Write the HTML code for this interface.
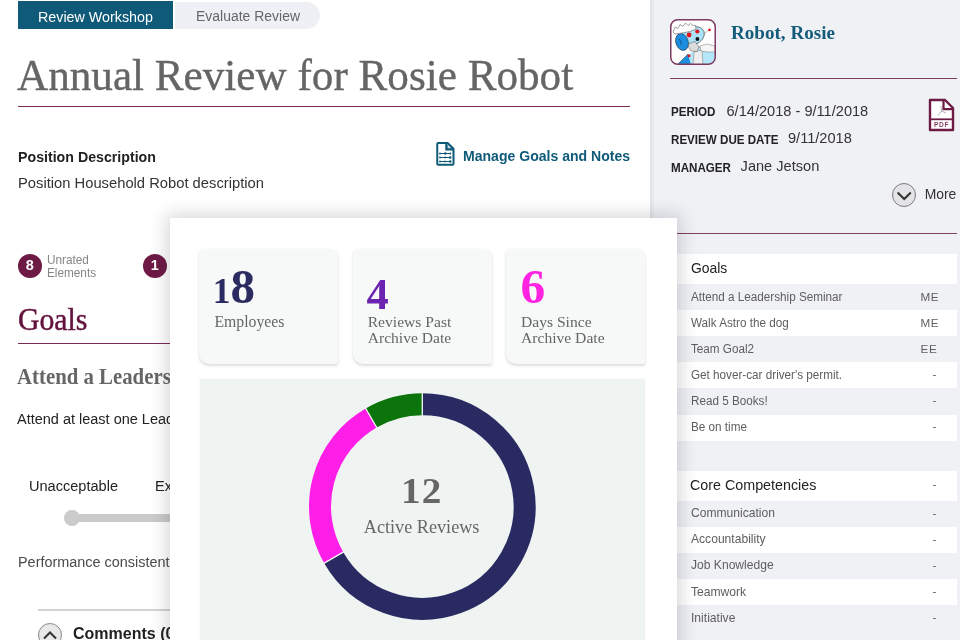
<!DOCTYPE html>
<html><head><meta charset="utf-8">
<style>
*{margin:0;padding:0;box-sizing:border-box}
html,body{width:960px;height:640px;overflow:hidden;background:#fff}
body{position:relative;font-family:"Liberation Sans",sans-serif;color:#333}
.a{position:absolute;white-space:nowrap;line-height:1}
</style></head><body>
<div class="a" style="left:18px;top:1px;width:155px;height:28px;background:#0e5a78;"></div>
<div class="a" style="left:175px;top:1.5px;width:145px;height:27.7px;background:#eef0f5;border-radius:0 14px 14px 0;"></div>
<div class="a" style="left:38.00px;top:8.65px;font-size:15px;color:#fff;transform:scaleX(0.953);transform-origin:0 0;">Review Workshop</div>
<div class="a" style="left:196.30px;top:8.48px;font-size:15.2px;color:#666;transform:scaleX(0.92);transform-origin:0 0;">Evaluate Review</div>
<div class="a" style="left:17.00px;top:52.85px;font-size:45px;color:#656565;transform:scaleX(0.959);transform-origin:0 0;-webkit-text-stroke:0.4px #656565;font-family:'Liberation Serif',serif;">Annual Review for Rosie Robot</div>
<div class="a" style="left:18px;top:105.5px;width:612px;height:1.2px;background:#7a2a52;"></div>
<div class="a" style="left:18.40px;top:149.59px;font-size:14.6px;color:#222;transform:scaleX(0.972);transform-origin:0 0;font-weight:700;">Position Description</div>
<div class="a" style="left:18.40px;top:174.59px;font-size:15.3px;color:#333;transform:scaleX(0.964);transform-origin:0 0;">Position Household Robot description</div>
<svg class="a" style="left:435px;top:141px" width="21" height="26" viewBox="0 0 21 26">
 <path d="M2.25 3 Q2.25 2 3.25 2 H12.6 L18.5 7.7 V22.75 Q18.5 23.75 17.5 23.75 H3.25 Q2.25 23.75 2.25 22.75 Z" fill="#fff" stroke="#0f5a78" stroke-width="2" stroke-linejoin="round"/>
 <path d="M11.25 2.5 V8.6 H18" fill="#0f5a78" stroke="#0f5a78" stroke-width="2"/>
 <path d="M12.6 3.6 L16.2 7.2 H12.6 Z" fill="#cfdde3"/>
 <path d="M4.6 12.5 H15.6 M4.6 16.5 H15.6 M4.6 20.5 H15.6" stroke="#0f5a78" stroke-width="1.2"/>
 <circle cx="10.3" cy="12.5" r="1.3" fill="#0f5a78"/><circle cx="15.2" cy="16.5" r="1.3" fill="#0f5a78"/><circle cx="15.2" cy="20.5" r="1.3" fill="#0f5a78"/>
 <circle cx="5" cy="12.5" r="0.9" fill="#0f5a78"/><circle cx="5" cy="16.5" r="0.9" fill="#0f5a78"/><circle cx="5" cy="20.5" r="0.9" fill="#0f5a78"/>
 <circle cx="15.3" cy="12.5" r="0.9" fill="#0f5a78"/><circle cx="10" cy="16.5" r="0.9" fill="#0f5a78"/><circle cx="10" cy="20.5" r="0.9" fill="#0f5a78"/>
</svg>
<div class="a" style="left:462.50px;top:148.33px;font-size:15.2px;color:#0f5a78;transform:scaleX(0.925);transform-origin:0 0;font-weight:700;">Manage Goals and Notes</div>
<div class="a" style="left:18px;top:253.7px;width:24px;height:24px;border-radius:50%;background:#6d1a45"></div>
<div class="a" style="left:25.80px;top:258.48px;font-size:14.5px;color:#fff;font-weight:700;">8</div>
<div class="a" style="left:47.00px;top:254.16px;font-size:12.4px;color:#858585;transform:scaleX(0.95);transform-origin:0 0;">Unrated</div>
<div class="a" style="left:47.00px;top:266.96px;font-size:12.4px;color:#858585;transform:scaleX(0.95);transform-origin:0 0;">Elements</div>
<div class="a" style="left:143px;top:253.7px;width:24px;height:24px;border-radius:50%;background:#6d1a45"></div>
<div class="a" style="left:150.80px;top:258.48px;font-size:14.5px;color:#fff;font-weight:700;">1</div>
<div class="a" style="left:17.90px;top:302.74px;font-size:32px;color:#63123d;transform:scaleX(0.93);transform-origin:0 0;-webkit-text-stroke:0.45px #63123d;font-family:'Liberation Serif',serif;">Goals</div>
<div class="a" style="left:18px;top:342.8px;width:300px;height:1.2px;background:#7a2a52;"></div>
<div class="a" style="left:17.40px;top:365.52px;font-size:22.5px;color:#666;transform:scaleX(0.925);transform-origin:0 0;font-family:'Liberation Serif',serif;font-weight:700;">Attend a Leadership Seminar</div>
<div class="a" style="left:17.40px;top:411.17px;font-size:15.1px;color:#222;transform:scaleX(0.96);transform-origin:0 0;">Attend at least one Leadership Seminar</div>
<div class="a" style="left:28.75px;top:478.06px;font-size:15.1px;color:#222;transform:scaleX(0.964);transform-origin:0 0;">Unacceptable</div>
<div class="a" style="left:155.30px;top:478.06px;font-size:15.1px;color:#222;transform:scaleX(0.964);transform-origin:0 0;">Exceeds</div>
<div class="a" style="left:66px;top:514px;width:140px;height:8px;background:#cbcbcb;border-radius:4px;"></div>
<div class="a" style="left:64px;top:510px;width:16px;height:16px;background:#cbcbcb;border-radius:50%;"></div>
<div class="a" style="left:18.00px;top:554.26px;font-size:15.1px;color:#4a4a4a;transform:scaleX(0.955);transform-origin:0 0;">Performance consistently</div>
<div class="a" style="left:38px;top:609.3px;width:200px;height:1.6px;background:#d4d4d4;"></div>
<div class="a" style="left:38px;top:622.5px;width:24px;height:24px;border-radius:50%;background:#e8e8e8;border:1.6px solid #8a8a8a"></div>
<svg class="a" style="left:38px;top:622.5px" width="24" height="24"><path d="M6 15.5 L12 9.5 L18 15.5" fill="none" stroke="#333" stroke-width="2"/></svg>
<div class="a" style="left:73.00px;top:625.90px;font-size:16px;color:#222;font-weight:700;">Comments (0)</div>
<div class="a" style="left:650px;top:0;width:310px;height:640px;background:#f0f1f5;box-shadow:inset 4px 0 3px -1px rgba(0,0,20,.055)"></div>
<svg class="a" style="left:670px;top:19px" width="46" height="46" viewBox="0 0 46 46">
 <defs><clipPath id="av"><rect x="1" y="1" width="44" height="44" rx="6.5"/></clipPath></defs>
 <rect x="0.75" y="0.75" width="44.5" height="44.5" rx="7" fill="#fff"/>
 <g clip-path="url(#av)">
  <path d="M24 30 L33 27 L46 28 L46 46 L25 46 Z" fill="#b3e6f8" stroke="#555" stroke-width=".5"/>
  <path d="M7 46 L18 35 L21 38 L22 46 Z" fill="#1b8fe0" stroke="#333" stroke-width=".5"/>
  <path d="M18 35 L26 32 L25 46 L21 46 Z" fill="#b3e6f8"/>
  <path d="M24 33 L32 31 L33 46 L23 46 Z" fill="#eeeeee" stroke="#888" stroke-width=".6"/>
  <path d="M30 27 L37 25 L45 27 L45 33 L37 33 L31 32 Z" fill="#f6f6f6" stroke="#888" stroke-width=".6"/>
  <ellipse cx="21" cy="17.5" rx="14" ry="9.3" transform="rotate(-22 21 17.5)" fill="#a9e3f6" stroke="#444" stroke-width=".6"/>
  <ellipse cx="12" cy="23" rx="6.2" ry="8.6" transform="rotate(-18 12 23)" fill="#1a8de0" stroke="#333" stroke-width=".6"/>
  <path d="M9 20 Q12 22 11 26" fill="none" stroke="#135" stroke-width=".6"/>
  <path d="M3 13 L5 8 L8 9.5 L10 5.5 L13 7.5 L15.5 4 L18 6.5 L20.5 4.5 L23 6.5 L25.5 6.5 L26 10 L20 12.5 L12 14 L5 15 Z" fill="#fff" stroke="#777" stroke-width=".7"/>
  <path d="M19 24.5 L25 22.5 L29 28 L27 32.5 L21 32 L18.5 28 Z" fill="#dcdcdc" stroke="#666" stroke-width=".6"/>
  <circle cx="19.1" cy="16" r="2.4" fill="#e0141e"/>
  <circle cx="27.3" cy="12.5" r="2.1" fill="#e0141e"/>
  <circle cx="27.4" cy="20" r="1.9" fill="#111"/>
  <circle cx="19" cy="36.7" r="1.5" fill="#e0141e"/>
  <path d="M33 15.5 L39 11" stroke="#888" stroke-width=".6"/>
  <circle cx="39.5" cy="10.9" r="1.3" fill="#e0141e"/>
 </g>
 <rect x="0.75" y="0.75" width="44.5" height="44.5" rx="7" fill="none" stroke="#7d3a5e" stroke-width="1.5"/>
</svg>
<div class="a" style="left:731.00px;top:22.87px;font-size:19.8px;color:#145b7a;transform:scaleX(0.965);transform-origin:0 0;font-family:'Liberation Serif',serif;font-weight:700;">Robot, Rosie</div>
<div class="a" style="left:670px;top:77.9px;width:287px;height:1.2px;background:#7f3a5e;"></div>
<div class="a" style="left:671.00px;top:104.78px;font-size:13.2px;color:#222;transform:scaleX(0.88);transform-origin:0 0;font-weight:700;">PERIOD</div>
<div class="a" style="left:726.50px;top:103.59px;font-size:14.6px;color:#333;">6/14/2018 - 9/11/2018</div>
<div class="a" style="left:671.00px;top:132.53px;font-size:13.2px;color:#222;transform:scaleX(0.88);transform-origin:0 0;font-weight:700;">REVIEW DUE DATE</div>
<div class="a" style="left:788.00px;top:131.34px;font-size:14.6px;color:#333;">9/11/2018</div>
<div class="a" style="left:671.00px;top:160.68px;font-size:13.2px;color:#222;transform:scaleX(0.88);transform-origin:0 0;font-weight:700;">MANAGER</div>
<div class="a" style="left:740.60px;top:159.49px;font-size:14.6px;color:#333;">Jane Jetson</div>
<svg class="a" style="left:928px;top:98px" width="28" height="34" viewBox="0 0 28 34">
 <path d="M2 2 H17 L25 10 V32 H2 Z" fill="#fff" stroke="#6d1a45" stroke-width="2.4" stroke-linejoin="round"/>
 <path d="M15.5 2.5 V11.2 H25" fill="none" stroke="#6d1a45" stroke-width="2.2"/>
 <path d="M2 21.3 H25" stroke="#6d1a45" stroke-width="1.8"/>
 <text x="13.6" y="28.6" font-family="Liberation Sans,sans-serif" font-size="6.6" font-weight="bold" fill="#8a3d64" text-anchor="middle" letter-spacing=".6">PDF</text>
 <path d="M13 8 L13.5 13 L10 17.5 M13.5 13 L18 15" fill="none" stroke="#aaa" stroke-width=".9"/>
</svg>
<div class="a" style="left:891.6px;top:183.2px;width:24.2px;height:24.2px;border-radius:50%;background:#e4e4e7;border:1.6px solid #7c7c7c"></div>
<svg class="a" style="left:891.6px;top:183.2px" width="24" height="24"><path d="M5.6 9.6 L12.2 16 L18.8 9.6" fill="none" stroke="#333" stroke-width="2.1"/></svg>
<div class="a" style="left:924.70px;top:188.49px;font-size:13.9px;color:#333;">More</div>
<div class="a" style="left:670px;top:232.5px;width:287px;height:1.1px;background:#833e63;"></div>
<div class="a" style="left:670px;top:254px;width:287px;height:30px;background:#fff;"></div>
<div class="a" style="left:690.50px;top:259.55px;font-size:15px;color:#222;transform:scaleX(0.927);transform-origin:0 0;">Goals</div>
<div class="a" style="left:690.50px;top:290.55px;font-size:12.3px;color:#5e5e5e;transform:scaleX(0.951);transform-origin:0 0;">Attend a Leadership Seminar</div>
<div class="a" style="left:920.50px;top:291.06px;font-size:11.7px;color:#606060;letter-spacing:0.6px;">ME</div>
<div class="a" style="left:670px;top:310.1px;width:287px;height:26.1px;background:#fff;"></div>
<div class="a" style="left:690.50px;top:316.65px;font-size:12.3px;color:#5e5e5e;transform:scaleX(0.951);transform-origin:0 0;">Walk Astro the dog</div>
<div class="a" style="left:920.50px;top:317.16px;font-size:11.7px;color:#606060;letter-spacing:0.6px;">ME</div>
<div class="a" style="left:690.50px;top:342.75px;font-size:12.3px;color:#5e5e5e;transform:scaleX(0.951);transform-origin:0 0;">Team Goal2</div>
<div class="a" style="left:920.50px;top:343.25px;font-size:11.7px;color:#606060;letter-spacing:0.6px;">EE</div>
<div class="a" style="left:670px;top:362.3px;width:287px;height:26.1px;background:#fff;"></div>
<div class="a" style="left:690.50px;top:368.85px;font-size:12.3px;color:#5e5e5e;transform:scaleX(0.951);transform-origin:0 0;">Get hover-car driver's permit.</div>
<div class="a" style="left:932.50px;top:367.86px;font-size:11.7px;color:#606060;">-</div>
<div class="a" style="left:690.50px;top:394.94px;font-size:12.3px;color:#5e5e5e;transform:scaleX(0.951);transform-origin:0 0;">Read 5 Books!</div>
<div class="a" style="left:932.50px;top:393.95px;font-size:11.7px;color:#606060;">-</div>
<div class="a" style="left:670px;top:414.5px;width:287px;height:26.1px;background:#fff;"></div>
<div class="a" style="left:690.50px;top:421.05px;font-size:12.3px;color:#5e5e5e;transform:scaleX(0.951);transform-origin:0 0;">Be on time</div>
<div class="a" style="left:932.50px;top:420.06px;font-size:11.7px;color:#606060;">-</div>
<div class="a" style="left:670px;top:470.6px;width:287px;height:30.4px;background:#fff;"></div>
<div class="a" style="left:690.30px;top:476.85px;font-size:15px;color:#222;transform:scaleX(0.953);transform-origin:0 0;">Core Competencies</div>
<div class="a" style="left:932.50px;top:478.16px;font-size:11.7px;color:#606060;">-</div>
<div class="a" style="left:690.50px;top:507.20px;font-size:12.7px;color:#5e5e5e;transform:scaleX(0.953);transform-origin:0 0;">Communication</div>
<div class="a" style="left:932.50px;top:506.56px;font-size:11.7px;color:#606060;">-</div>
<div class="a" style="left:670px;top:527.1px;width:287px;height:26.1px;background:#fff;"></div>
<div class="a" style="left:690.50px;top:533.31px;font-size:12.7px;color:#5e5e5e;transform:scaleX(0.953);transform-origin:0 0;">Accountability</div>
<div class="a" style="left:932.50px;top:532.65px;font-size:11.7px;color:#606060;">-</div>
<div class="a" style="left:690.50px;top:559.41px;font-size:12.7px;color:#5e5e5e;transform:scaleX(0.953);transform-origin:0 0;">Job Knowledge</div>
<div class="a" style="left:932.50px;top:558.75px;font-size:11.7px;color:#606060;">-</div>
<div class="a" style="left:670px;top:579.3px;width:287px;height:26.1px;background:#fff;"></div>
<div class="a" style="left:690.50px;top:585.50px;font-size:12.7px;color:#5e5e5e;transform:scaleX(0.953);transform-origin:0 0;">Teamwork</div>
<div class="a" style="left:932.50px;top:584.85px;font-size:11.7px;color:#606060;">-</div>
<div class="a" style="left:690.50px;top:611.61px;font-size:12.7px;color:#5e5e5e;transform:scaleX(0.953);transform-origin:0 0;">Initiative</div>
<div class="a" style="left:932.50px;top:610.95px;font-size:11.7px;color:#606060;">-</div>
<div class="a" style="left:170px;top:218px;width:507px;height:440px;background:#fff;box-shadow:0 0 17px 3px rgba(25,30,45,.19)"></div>
<div class="a" style="left:199px;top:249px;width:139px;height:115px;background:#f6f9f8;border-radius:5px 8px 2px 10px;box-shadow:0 2px 3px rgba(0,0,0,.13),0 0 2px rgba(0,0,0,.05)"></div>
<div class="a" style="left:352.5px;top:249px;width:139px;height:115px;background:#f6f9f8;border-radius:5px 8px 2px 10px;box-shadow:0 2px 3px rgba(0,0,0,.13),0 0 2px rgba(0,0,0,.05)"></div>
<div class="a" style="left:505.5px;top:249px;width:139px;height:115px;background:#f6f9f8;border-radius:5px 8px 2px 10px;box-shadow:0 2px 3px rgba(0,0,0,.13),0 0 2px rgba(0,0,0,.05)"></div>
<div class="a" style="left:212.80px;top:273.70px;font-size:35.3px;color:#2b2a61;font-family:'Liberation Serif',serif;font-weight:700;">1</div>
<div class="a" style="left:230.60px;top:262.33px;font-size:49px;color:#2b2a61;font-family:'Liberation Serif',serif;font-weight:700;">8</div>
<div class="a" style="left:366.50px;top:272.37px;font-size:44.5px;color:#6b23b0;font-family:'Liberation Serif',serif;font-weight:700;">4</div>
<div class="a" style="left:520.50px;top:262.30px;font-size:49.4px;color:#ff22e0;font-family:'Liberation Serif',serif;font-weight:700;">6</div>
<div class="a" style="left:214.40px;top:314.23px;font-size:15.75px;color:#666;font-family:'Liberation Serif',serif;">Employees</div>
<div class="a" style="left:367.70px;top:314.35px;font-size:15.6px;color:#666;font-family:'Liberation Serif',serif;">Reviews Past</div>
<div class="a" style="left:367.70px;top:330.35px;font-size:15.6px;color:#666;font-family:'Liberation Serif',serif;">Archive Date</div>
<div class="a" style="left:521.00px;top:314.35px;font-size:15.6px;color:#666;font-family:'Liberation Serif',serif;">Days Since</div>
<div class="a" style="left:521.00px;top:330.35px;font-size:15.6px;color:#666;font-family:'Liberation Serif',serif;">Archive Date</div>
<div class="a" style="left:199.5px;top:379px;width:445px;height:300px;background:#eff4f2;box-shadow:0 0 2px rgba(0,0,0,.06)"></div>
<svg class="a" style="left:0;top:0" width="960" height="640"><path d="M422.30 404.20 A102.3 102.3 0 1 1 333.71 557.65" fill="none" stroke="#292a62" stroke-width="22"/><path d="M333.71 557.65 A102.3 102.3 0 0 1 371.15 417.91" fill="none" stroke="#ff1ee8" stroke-width="22"/><path d="M371.15 417.91 A102.3 102.3 0 0 1 422.30 404.20" fill="none" stroke="#0b740b" stroke-width="22"/><path d="M422.30 416.20 L422.30 392.20" stroke="#f4f8f6" stroke-width="1.3"/><path d="M344.10 551.65 L323.31 563.65" stroke="#f4f8f6" stroke-width="1.3"/><path d="M377.15 428.30 L365.15 407.51" stroke="#f4f8f6" stroke-width="1.3"/></svg>
<div class="a" style="left:400.80px;top:473.95px;font-size:35px;color:#666;transform:scaleX(1.12);transform-origin:0 0;font-family:'Liberation Serif',serif;font-weight:700;letter-spacing:1px;">12</div>
<div class="a" style="left:363.75px;top:518.29px;font-size:18.2px;color:#666;font-family:'Liberation Serif',serif;">Active Reviews</div>
</body></html>
